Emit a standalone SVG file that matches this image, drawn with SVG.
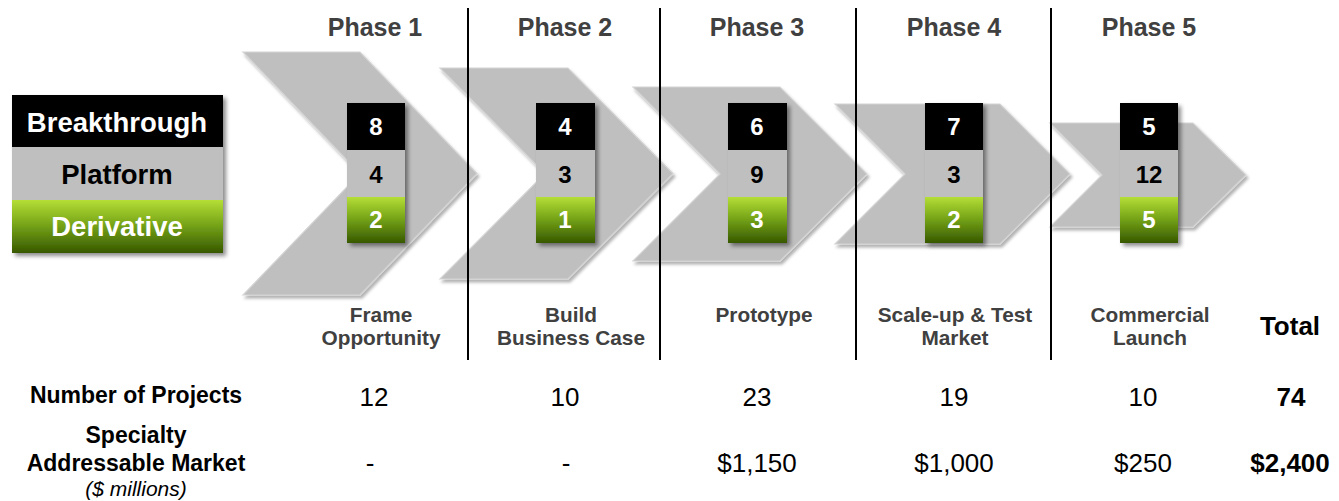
<svg xmlns="http://www.w3.org/2000/svg" width="1339" height="501" viewBox="0 0 1339 501">
<defs>
<linearGradient id="green" x1="0" y1="0" x2="0" y2="1">
<stop offset="0" stop-color="#b5de36"/>
<stop offset="0.5" stop-color="#72a016"/>
<stop offset="1" stop-color="#375800"/>
</linearGradient>
<filter id="shChev" x="-10%" y="-10%" width="125%" height="125%">
<feDropShadow dx="2" dy="3" stdDeviation="1.8" flood-color="#000" flood-opacity="0.3"/>
</filter>
<filter id="shBox" x="-20%" y="-10%" width="150%" height="125%">
<feDropShadow dx="3" dy="3" stdDeviation="2.2" flood-color="#000" flood-opacity="0.45"/>
</filter>
</defs>
<style>
.chev{fill:#bfbfbf;stroke:#d4d4d4;stroke-width:1.2;filter:url(#shChev)}
.blk{fill:#000}
.gry{fill:#bfbfbf}
.grn{fill:url(#green)}
.t{font-family:"Liberation Sans",Arial,sans-serif}
.phase{font-family:"Liberation Sans",Arial,sans-serif;font-weight:bold;font-size:25px;fill:#404040;text-anchor:middle}
.num{font-family:"Liberation Sans",Arial,sans-serif;font-weight:bold;font-size:24px;text-anchor:middle}
.leg{font-family:"Liberation Sans",Arial,sans-serif;font-weight:bold;font-size:27.5px;text-anchor:middle}
.stage{font-family:"Liberation Sans",Arial,sans-serif;font-weight:bold;font-size:20.8px;fill:#404040;text-anchor:middle}
.rowh{font-family:"Liberation Sans",Arial,sans-serif;font-weight:bold;font-size:23px;fill:#000;text-anchor:middle}
.val{font-family:"Liberation Sans",Arial,sans-serif;font-size:26px;fill:#000;text-anchor:middle}
.valb{font-family:"Liberation Sans",Arial,sans-serif;font-weight:bold;font-size:26px;fill:#000;text-anchor:middle}
.sep{stroke:#000;stroke-width:2;fill:none}
</style>

<g id="legend">
<g filter="url(#shBox)">
<rect class="blk" x="12" y="95" width="211" height="52"/>
<rect class="gry" x="12" y="147" width="211" height="53"/>
<rect class="grn" x="12" y="200" width="211" height="53"/>
</g>
<text class="leg" x="117" y="132" fill="#fff">Breakthrough</text>
<text class="leg" x="117" y="184" fill="#000">Platform</text>
<text class="leg" x="117" y="236" fill="#fff">Derivative</text>
</g>

<g id="phase1">
<polygon class="chev" points="243,52 360,52 477,173.5 360,295 243,295 360,173.5"/>
<g filter="url(#shBox)">
<rect class="blk" x="347" y="103" width="58" height="47"/>
<rect class="gry" x="347" y="150" width="58" height="47"/>
<rect class="grn" x="347" y="197" width="58" height="46"/>
</g>
<text class="num" x="376" y="135" fill="#fff">8</text>
<text class="num" x="376" y="183" fill="#000">4</text>
<text class="num" x="376" y="228" fill="#fff">2</text>
<text class="phase" x="375" y="36">Phase 1</text>
<text class="stage" x="381" y="322">Frame</text>
<text class="stage" x="381" y="345">Opportunity</text>
</g>

<g id="phase2">
<polygon class="chev" points="440,68 568,68 673,173.5 568,279 440,279 545,173.5"/>
<g filter="url(#shBox)">
<rect class="blk" x="536" y="103" width="59" height="47"/>
<rect class="gry" x="536" y="150" width="59" height="47"/>
<rect class="grn" x="536" y="197" width="59" height="46"/>
</g>
<text class="num" x="565" y="135" fill="#fff">4</text>
<text class="num" x="565" y="183" fill="#000">3</text>
<text class="num" x="565" y="228" fill="#fff">1</text>
<text class="phase" x="565" y="36">Phase 2</text>
<text class="stage" x="571" y="322">Build</text>
<text class="stage" x="571" y="345">Business Case</text>
</g>

<g id="phase3">
<polygon class="chev" points="633,87 780,87 867,174 780,261 633,261 720,174"/>
<g filter="url(#shBox)">
<rect class="blk" x="728" y="103" width="59" height="47"/>
<rect class="gry" x="728" y="150" width="59" height="47"/>
<rect class="grn" x="728" y="197" width="59" height="46"/>
</g>
<text class="num" x="757" y="135" fill="#fff">6</text>
<text class="num" x="757" y="183" fill="#000">9</text>
<text class="num" x="757" y="228" fill="#fff">3</text>
<text class="phase" x="757" y="36">Phase 3</text>
<text class="stage" x="764" y="322">Prototype</text>
</g>

<g id="phase4">
<polygon class="chev" points="835,104 1000,104 1070,174 1000,244 835,244 905,174"/>
<g filter="url(#shBox)">
<rect class="blk" x="925" y="103" width="58" height="47"/>
<rect class="gry" x="925" y="150" width="58" height="47"/>
<rect class="grn" x="925" y="197" width="58" height="46"/>
</g>
<text class="num" x="954" y="135" fill="#fff">7</text>
<text class="num" x="954" y="183" fill="#000">3</text>
<text class="num" x="954" y="228" fill="#fff">2</text>
<text class="phase" x="954" y="36">Phase 4</text>
<text class="stage" x="955" y="322">Scale-up &amp; Test</text>
<text class="stage" x="955" y="345">Market</text>
</g>

<g id="phase5">
<polygon class="chev" points="1050,123 1193,123 1246,175 1193,227 1050,227 1102,175"/>
<g filter="url(#shBox)">
<rect class="blk" x="1120" y="103" width="58" height="47"/>
<rect class="gry" x="1120" y="150" width="58" height="47"/>
<rect class="grn" x="1120" y="197" width="58" height="46"/>
</g>
<text class="num" x="1149" y="135" fill="#fff">5</text>
<text class="num" x="1149" y="183" fill="#000">12</text>
<text class="num" x="1149" y="228" fill="#fff">5</text>
<text class="phase" x="1149" y="36">Phase 5</text>
<text class="stage" x="1150" y="322">Commercial</text>
<text class="stage" x="1150" y="345">Launch</text>
</g>

<g id="separators">
<line class="sep" x1="468" y1="8" x2="468" y2="360"/>
<line class="sep" x1="660" y1="8" x2="660" y2="360"/>
<line class="sep" x1="856" y1="8" x2="856" y2="360"/>
<line class="sep" x1="1051" y1="8" x2="1051" y2="360"/>
</g>

<g id="table">
<text class="valb" x="1290" y="335">Total</text>
<text class="rowh" x="136" y="403">Number of Projects</text>
<text class="val" x="374" y="406">12</text>
<text class="val" x="565" y="406">10</text>
<text class="val" x="757" y="406">23</text>
<text class="val" x="954" y="406">19</text>
<text class="val" x="1143" y="406">10</text>
<text class="valb" x="1291" y="406">74</text>
<text class="rowh" x="136" y="443">Specialty</text>
<text class="rowh" x="136" y="471">Addressable Market</text>
<text class="t" x="136" y="496" font-size="21" font-style="italic" text-anchor="middle" fill="#000">($ millions)</text>
<text class="val" x="370" y="472">-</text>
<text class="val" x="566" y="472">-</text>
<text class="val" x="757" y="472">$1,150</text>
<text class="val" x="954" y="472">$1,000</text>
<text class="val" x="1143" y="472">$250</text>
<text class="valb" x="1290" y="472">$2,400</text>
</g>
</svg>
